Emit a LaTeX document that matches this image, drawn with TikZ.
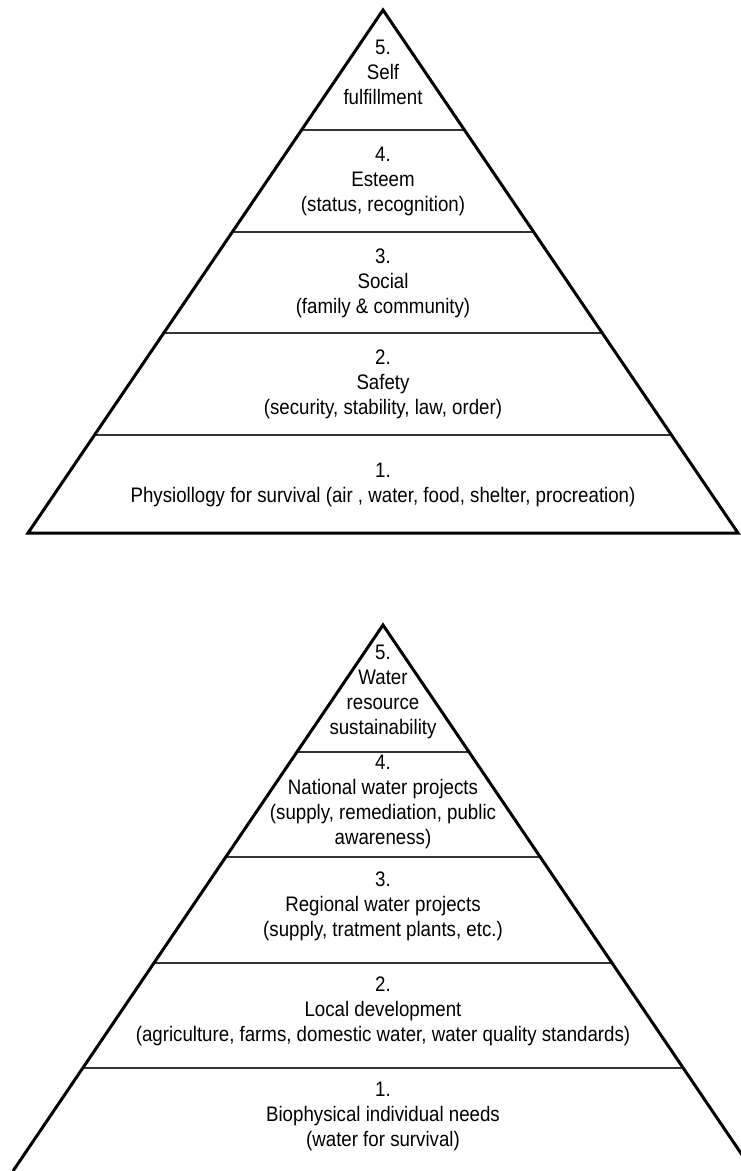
\documentclass[tikz,border=0pt]{standalone}
\usepackage{fontspec}
\setmainfont{Liberation Sans}[FakeStretch=0.89]
\usetikzlibrary{calc}

\begin{document}
\begin{tikzpicture}[x=1pt,y=-1pt,
  outline/.style={line width=3pt, line join=miter},
  divider/.style={line width=1.3pt, draw=black!80},
  tier/.style={align=center, font=\fontsize{21}{25}\selectfont, inner sep=0pt}]
\useasboundingbox (0,0) rectangle (741,1171);
\clip (0,0) rectangle (741,1171);

% ---- Maslow's hierarchy of needs ----
\coordinate (mA) at (383,10);
\coordinate (mL) at (28,533);
\coordinate (mR) at (738,533);
\foreach \t in {0.2294,0.4245,0.6176,0.8126}
  \draw[divider] ($(mA)!\t!(mL)$) -- ($(mA)!\t!(mR)$);
\draw[outline] (mL) -- (mA) -- (mR) -- cycle;

\node[tier] (m5) at (383,72)  {5.\\Self\\fulfillment};
\node[tier] (m4) at (383,181) {4.\\Esteem\\(status, recognition)};
\node[tier] (m3) at (383,283) {3.\\Social\\(family \& community)};
\node[tier] (m2) at (383,384) {2.\\Safety\\(security, stability, law, order)};
\node[tier] (m1) at (383,485) {1.\\Physiollogy for survival (air , water, food, shelter, procreation)};

% ---- Hierarchy of water needs ----
\coordinate (wA) at (383,625);
\coordinate (wL) at (13,1171);
\coordinate (wR) at (753,1171);
\foreach \t in {0.2326,0.4249,0.6190,0.8114}
  \draw[divider] ($(wA)!\t!(wL)$) -- ($(wA)!\t!(wR)$);
\draw[outline] (wL) -- (wA) -- (wR);

\node[tier] (w5) at (383,692)  {5.\\Water\\resource\\sustainability};
\node[tier] (w4) at (383,802)  {4.\\National water projects\\(supply, remediation, public\\awareness)};
\node[tier] (w3) at (383,906)  {3.\\Regional water projects\\(supply, tratment plants, etc.)};
\node[tier] (w2) at (383,1011) {2.\\Local development\\(agriculture, farms, domestic water, water quality standards)};
\node[tier] (w1) at (383,1116) {1.\\Biophysical individual needs\\(water for survival)};
\end{tikzpicture}
\end{document}
